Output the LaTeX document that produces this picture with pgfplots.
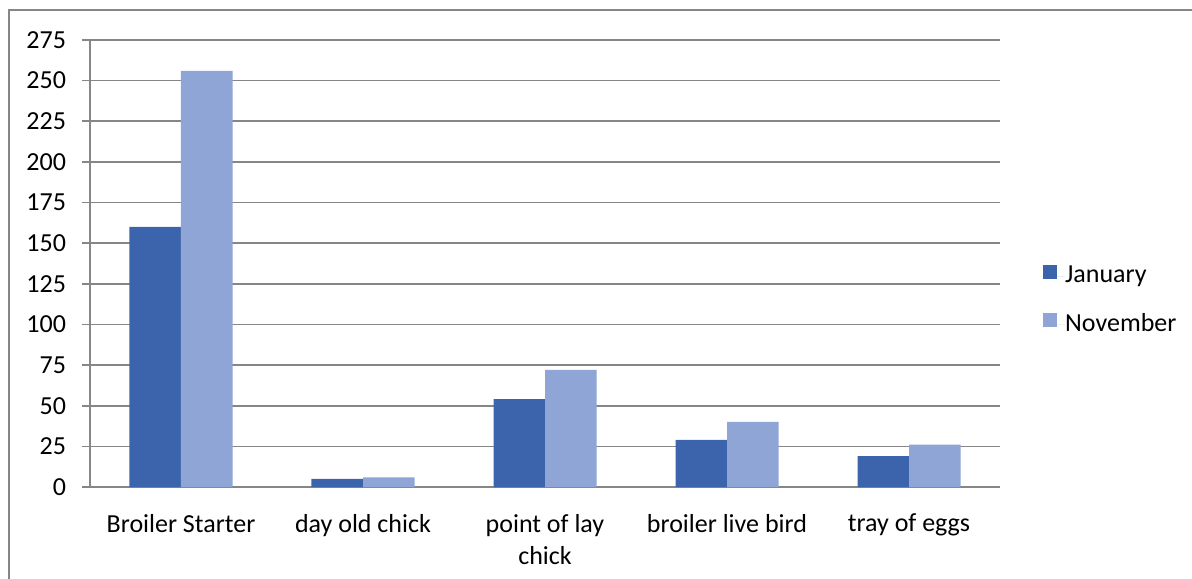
\documentclass[border=0pt]{standalone}
\usepackage{pgfplots}
\pgfplotsset{compat=1.18}
\usepackage{fontspec}
\setmainfont{Carlito}
\definecolor{jan}{RGB}{60,100,173}
\definecolor{nov}{RGB}{143,165,213}
\definecolor{gridc}{RGB}{134,134,134}

\begin{document}
\fontsize{13pt}{16pt}\selectfont
\begin{tikzpicture}
\begin{axis}[
    name=ax,
    scale only axis, width=455pt, height=223.5pt,
    ybar=0pt, bar width=25.75pt,
    xmin=-0.5, xmax=4.5, ymin=0, ymax=275,
    ytick={0,25,...,275},
    xtick={0,...,4},
    xticklabels={Broiler Starter, day old chick, {point of lay\\chick}, broiler live bird, tray of eggs},
    xticklabel style={align=center, yshift=-5pt},
    yticklabel style={xshift=-3.5pt},
    ymajorgrids, major grid style={gridc, line width=0.8pt},
    axis x line*=bottom, axis y line*=left,
    axis line style={gridc, line width=0.8pt},
    tick align=outside, major tick length=4pt,
    xtick style={draw=none},
    ytick style={gridc, line width=0.8pt},
    extra x ticks={-0.5,0.5,1.5,2.5,3.5,4.5},
    extra x tick labels={},
    extra x tick style={grid=none, major tick length=3pt, tick style={draw=gridc, line width=0.8pt}},
    /pgf/number format/assume math mode=true,
    legend style={draw=none, fill=none, at={(1.047,0.418)}, anchor=west,
        inner sep=0pt, row sep=13pt, nodes={inner sep=0pt}},
    legend image code/.code={\path (0pt,0pt) -- (11pt,0pt);
        \fill[#1] (0pt,-1pt) rectangle (7pt,6pt);},
    legend cell align=left,
]
\addplot[fill=jan, draw=none] coordinates {(0,160) (1,5) (2,54) (3,29) (4,19)};
\addplot[fill=nov, draw=none] coordinates {(0,256) (1,6) (2,72) (3,40) (4,26)};
\legend{January, November}
\end{axis}
\pgfresetboundingbox
\path[use as bounding box] ([shift={(-45pt,-45.5pt)}]ax.south west) rectangle ([shift={(551pt,243.5pt)}]ax.south west);
\draw[gridc, line width=0.8pt] ([shift={(-40.5pt,-60pt)}]ax.south west) -- ([shift={(-40.5pt,238.5pt)}]ax.south west) -- ([shift={(560pt,238.5pt)}]ax.south west);
\end{tikzpicture}
\end{document}
